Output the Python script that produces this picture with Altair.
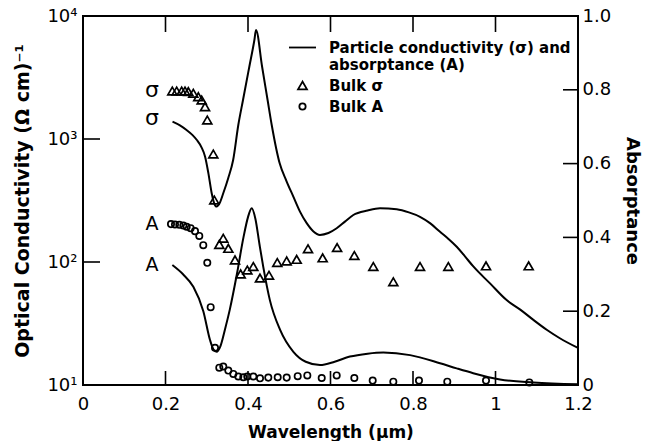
import altair as alt
import pandas as pd

FONT = "DejaVu Sans"

# Particle conductivity curve (left axis, log scale)
sig_wl = [0.217, 0.235, 0.251, 0.265, 0.276, 0.287, 0.296, 0.304, 0.312, 0.318,
          0.324, 0.331, 0.340, 0.352, 0.364, 0.3765, 0.3879, 0.4032, 0.4155, 0.4194,
          0.4342, 0.4475, 0.4575, 0.4768, 0.493, 0.5099, 0.526, 0.5423, 0.558, 0.5745,
          0.595, 0.615, 0.635, 0.6553, 0.69, 0.72, 0.7605, 0.79, 0.817, 0.842,
          0.8655, 0.886, 0.906, 0.926, 0.9462, 0.9867, 1.027, 1.06, 1.091, 1.125,
          1.156, 1.2]
sig_val = [1384, 1290, 1183, 1080, 981, 860, 718, 526, 362, 300,
           282, 300, 362, 480, 675, 1300, 2075, 3870, 6380, 7700,
           3870, 2075, 1300, 634, 457, 340, 257, 207, 178, 166,
           172, 188, 213, 241, 262, 273, 268, 253, 233, 206,
           176, 154, 133, 111, 92, 67, 49, 41, 34, 28,
           24, 20]

# Particle absorptance curve (right axis, linear)
abs_wl = [0.2166, 0.2425, 0.2675, 0.2917, 0.3079, 0.316, 0.324, 0.333, 0.344, 0.356,
          0.373, 0.389, 0.400, 0.409, 0.418, 0.428, 0.437, 0.453, 0.4776, 0.51,
          0.54, 0.5745, 0.61, 0.647, 0.69, 0.728, 0.793, 0.8655, 0.906, 0.946,
          1.011, 1.092, 1.2]
abs_val = [0.325, 0.300, 0.266, 0.200, 0.122, 0.097, 0.090, 0.105, 0.150, 0.205,
           0.300, 0.400, 0.455, 0.479, 0.450, 0.380, 0.320, 0.230, 0.150, 0.090,
           0.063, 0.054, 0.063, 0.077, 0.085, 0.088, 0.081, 0.059, 0.045, 0.032,
           0.015, 0.007, 0.002]

# Bulk conductivity (triangles)
bulk_sig_wl = [0.2165, 0.2271, 0.2392, 0.2473, 0.2553, 0.2674, 0.2795, 0.2877, 0.2958, 0.3013,
               0.3159, 0.3183, 0.3305, 0.340, 0.3523, 0.3685, 0.3822, 0.3984, 0.4129, 0.429,
               0.4509, 0.471, 0.4937, 0.518, 0.5455, 0.581, 0.616, 0.6578, 0.7038, 0.7523,
               0.817, 0.8857, 0.977, 1.0804]
bulk_sig_val = [2455, 2455, 2455, 2455, 2427, 2352, 2208, 2075, 1832, 1426,
                755, 319, 139, 156, 129, 104, 80, 86, 92, 74,
                78, 99, 102, 105, 128, 108, 131, 113, 92, 69,
                92, 92, 93, 93]

# Bulk absorptance (circles)
bulk_abs_wl = [0.2133, 0.2230, 0.2335, 0.2432, 0.2513, 0.2610, 0.2715, 0.2819, 0.2916, 0.3013,
               0.3095, 0.3200, 0.3304, 0.3401, 0.3523, 0.3644, 0.3765, 0.3886, 0.3983, 0.4129,
               0.4291, 0.4492, 0.4720, 0.4938, 0.5205, 0.5438, 0.5787, 0.6150, 0.6578, 0.7023,
               0.7523, 0.8145, 0.8831, 0.9770, 1.0820]
bulk_abs_val = [0.436, 0.435, 0.434, 0.432, 0.429, 0.425, 0.417, 0.404, 0.379, 0.331,
                0.211, 0.101, 0.047, 0.050, 0.039, 0.030, 0.023, 0.021, 0.023, 0.023,
                0.018, 0.020, 0.021, 0.020, 0.024, 0.026, 0.019, 0.026, 0.019, 0.012,
                0.009, 0.012, 0.009, 0.012, 0.007]

# Axis ticks and curve labels
x_ticks = [0, 0.2, 0.4, 0.6, 0.8, 1.0, 1.2]
x_inner_ticks = [0.2, 0.4, 0.6, 0.8, 1.0]
sig_ticks = [10, 100, 1000, 10000]
sig_inner_ticks = [100, 1000]
abs_ticks = [0, 0.2, 0.4, 0.6, 0.8, 1.0]
abs_inner_ticks = [0.2, 0.4, 0.6, 0.8]
label_wl = 0.167
sig_label_text = ["σ", "σ"]
sig_label_y = [2500, 1480]
abs_label_text = ["A", "A"]
abs_label_y = [0.435, 0.325]

LINE_NAME = "Particle conductivity (σ) and absorptance (A)"
legend_names = [LINE_NAME, "Bulk σ", "Bulk A"]

W, H = 495, 369

x_axis = alt.Axis(values=x_ticks, ticks=False, domain=False, grid=False, labelFlush=False,
                  labelExpr="datum.value == 0 ? '0' : datum.value == 1 ? '1' : format(datum.value, '.1f')",
                  title="Wavelength (μm)", labelPadding=10, titlePadding=11)
X = alt.X("wl:Q", scale=alt.Scale(domain=[0, 1.2], nice=False, zero=False), axis=x_axis)

sig_axis = alt.Axis(values=sig_ticks, ticks=False, domain=False, grid=False, orient="left",
                    labelFlush=False,
                    labelExpr="datum.value == 10 ? '10¹' : datum.value == 100 ? '10²' : datum.value == 1000 ? '10³' : '10⁴'",
                    title="Optical Conductivity (Ω cm)⁻¹", titleFontSize=19,
                    labelPadding=6, titlePadding=14)
YS = alt.Y("v:Q", scale=alt.Scale(type="log", domain=[10, 10000], nice=False), axis=sig_axis)

abs_axis = alt.Axis(values=abs_ticks, ticks=False, domain=False, grid=False, orient="right",
                    labelFlush=False,
                    labelExpr="datum.value == 0 ? '0' : format(datum.value, '.1f')",
                    title="Absorptance", titleFontSize=18, labelPadding=4, titlePadding=12)
YA = alt.Y("v:Q", scale=alt.Scale(domain=[0, 1], nice=False, zero=False), axis=abs_axis)

leg = alt.Legend(title=None, orient="none", legendX=205, legendY=17,
                 labelFont=FONT, labelFontSize=15, labelFontWeight="bold", labelColor="black",
                 labelLimit=400, labelOffset=12, rowPadding=5,
                 symbolStrokeColor="black", symbolStrokeWidth=1.8, symbolOpacity=1,
                 labelExpr=("datum.label == '" + LINE_NAME + "' ? ['Particle conductivity (σ) and', "
                            "'\u2002\u2002absorptance (A)'] : datum.label"))
SHAPE = alt.Shape("series:N", scale=alt.Scale(domain=legend_names,
                                              range=["stroke", "triangle-up", "circle"]), legend=leg)
SIZE = alt.Size("series:N", scale=alt.Scale(type="ordinal", domain=legend_names, range=[729, 80, 40]),
                legend=leg)

sig_df = pd.DataFrame({"wl": sig_wl, "v": sig_val})
abs_df = pd.DataFrame({"wl": abs_wl, "v": abs_val})
bsig_df = pd.DataFrame({"wl": bulk_sig_wl, "v": bulk_sig_val, "series": "Bulk σ"})
babs_df = pd.DataFrame({"wl": bulk_abs_wl, "v": bulk_abs_val, "series": "Bulk A"})
sig_lab_df = pd.DataFrame({"wl": label_wl, "v": sig_label_y, "t": sig_label_text})
abs_lab_df = pd.DataFrame({"wl": label_wl, "v": abs_label_y, "t": abs_label_text})
xt_df = pd.DataFrame({"wl": x_inner_ticks})
st_df = pd.DataFrame({"v": sig_inner_ticks})
at_df = pd.DataFrame({"v": abs_inner_ticks})

sig_line = alt.Chart(sig_df).mark_line(color="black", strokeWidth=2, interpolate="monotone").encode(x=X, y=YS)
sig_pts = alt.Chart(bsig_df).mark_point(filled=False, color="black", strokeWidth=1.7, opacity=1).encode(
    x=X, y=YS, shape=SHAPE, size=SIZE)
sig_labels = alt.Chart(sig_lab_df).mark_text(font=FONT, fontSize=22, color="black").encode(
    x=X, y=YS, text="t:N")
bottom_ticks = alt.Chart(xt_df).mark_rule(color="black", strokeWidth=1.6).encode(
    x=X, y=alt.value(H), y2=alt.value(H - 14))
top_ticks = alt.Chart(xt_df).mark_rule(color="black", strokeWidth=1.6).encode(
    x=X, y=alt.value(0), y2=alt.value(16))
left_ticks = alt.Chart(st_df).mark_rule(color="black", strokeWidth=1.6).encode(
    y=YS, x=alt.value(0), x2=alt.value(17))

abs_line = alt.Chart(abs_df).mark_line(color="black", strokeWidth=2, interpolate="monotone").encode(x=X, y=YA)
abs_pts = alt.Chart(babs_df).mark_point(filled=False, color="black", strokeWidth=1.7, opacity=1).encode(
    x=X, y=YA, shape=SHAPE, size=SIZE)
abs_labels = alt.Chart(abs_lab_df).mark_text(font=FONT, fontSize=19, color="black").encode(
    x=X, y=YA, text="t:N")
right_ticks = alt.Chart(at_df).mark_rule(color="black", strokeWidth=1.6).encode(
    y=YA, x=alt.value(W - 15), x2=alt.value(W))

left = alt.layer(sig_line, sig_pts, sig_labels, bottom_ticks, top_ticks, left_ticks)
right = alt.layer(abs_line, abs_pts, abs_labels, right_ticks)

chart = alt.layer(left, right).resolve_scale(y="independent").properties(
    width=W, height=H,
    autosize=alt.AutoSizeParams(type="none"),
    padding={"left": 83, "top": 16, "right": 67, "bottom": 56},
    background="white",
).configure_view(stroke="black", strokeWidth=2).configure_axis(
    labelFont=FONT, labelFontSize=18, labelColor="black",
    titleFont=FONT, titleFontSize=17, titleFontWeight="bold", titleColor="black",
)

chart.save("out.html", embed_options={"renderer": "svg", "actions": False})
